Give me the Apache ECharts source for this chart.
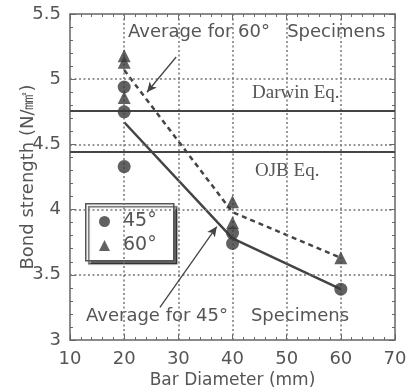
<!DOCTYPE html>
<html>
<head>
<meta charset="utf-8">
<script src="https://cdn.jsdelivr.net/npm/echarts@6/dist/echarts.min.js"></script>
<style>
  html, body { margin: 0; padding: 0; background: #fff; }
  #chart { width: 410px; height: 392px; }
</style>
</head>
<body>
<div id="chart"></div>
<script>
// data
var xTicks = [10, 20, 30, 40, 50, 60, 70];
var yTicks = [3, 3.5, 4, 4.5, 5, 5.5];
var pts45 = [[20, 4.94], [20, 4.75], [20, 4.33], [40, 3.82], [40, 3.74], [60, 3.39]];
var pts60 = [[20, 5.18], [20, 5.13], [20, 4.86], [40, 4.06], [40, 3.90], [60, 3.63]];
var avg45 = [[20, 4.67], [40, 3.78], [60, 3.39]];
var avg60 = [[20, 5.07], [40, 3.98], [60, 3.63]];
var darwinEq = 4.76;
var ojbEq = 4.44;
// arrows of the two notes, in data units
var arrow60 = [[29.6, 5.17], [24.2, 4.90]];
var arrow45 = [[26.6, 3.25], [37.1, 3.87]];

var ink = '#444';
var txt = '#555';
var font = '"DejaVu Sans"';

var chart = echarts.init(document.getElementById('chart'));

function xAxisOf(pos, labels) {
    return {
        type: 'value', position: pos,
        min: xTicks[0], max: xTicks[xTicks.length - 1], interval: 10,
        name: labels ? 'Bar Diameter (mm)' : '',
        nameLocation: 'middle', nameGap: 32, nameMoveOverlap: false,
        nameTextStyle: { color: txt, fontSize: 17, fontFamily: font },
        axisLine: { show: true, lineStyle: { color: '#666', width: 1.5 } },
        axisTick: { show: true, inside: true, length: 6, lineStyle: { color: '#666' } },
        minorTick: { show: true, splitNumber: 5, length: 3, lineStyle: { color: '#666' } },
        axisLabel: { show: labels, color: txt, fontSize: 18, fontFamily: font, margin: 10 },
        splitLine: { show: false }
    };
}
function yAxisOf(pos, labels) {
    return {
        type: 'value', position: pos,
        min: yTicks[0], max: yTicks[yTicks.length - 1], interval: 0.5,
        name: labels ? 'Bond strength (N/㎟)' : '',
        nameLocation: 'middle', nameGap: 33, nameMoveOverlap: false,
        nameTextStyle: { color: txt, fontSize: 18, fontFamily: font },
        axisLine: { show: true, lineStyle: { color: '#666', width: 1.5 } },
        axisTick: { show: true, inside: true, length: 6, lineStyle: { color: '#666' } },
        minorTick: { show: true, splitNumber: 5, length: 3, lineStyle: { color: '#666' } },
        axisLabel: { show: labels, color: txt, fontSize: 18, fontFamily: font, margin: 9 },
        splitLine: { show: false }
    };
}

// dotted grid at the inner major ticks
var gridLines = xTicks.slice(1, -1).map(function (v) { return { xAxis: v }; })
    .concat(yTicks.slice(1, -1).map(function (v) { return { yAxis: v }; }));

var option = {
    backgroundColor: '#fff',
    animation: false,
    grid: { left: 70, top: 14, right: 15, bottom: 52, outerBoundsMode: 'none' },
    xAxis: [xAxisOf('bottom', true), xAxisOf('top', false)],
    yAxis: [yAxisOf('left', true), yAxisOf('right', false)],
    legend: {
        orient: 'vertical', left: 99, top: 212,
        data: ['45°', '60°'],
        itemWidth: 11, itemHeight: 11, itemGap: 5,
        padding: 0,
        textStyle: { color: txt, fontSize: 19, fontFamily: font, padding: [0, 0, 0, 8] }
    },
    series: [{
        name: 'grid', type: 'line', data: [], symbol: 'none', z: 1,
        markLine: {
            silent: true, symbol: 'none', label: { show: false },
            lineStyle: { color: '#777', width: 1.5, type: [2, 2.5] },
            data: gridLines
        }
    }, {
        name: '45°', type: 'scatter', symbol: 'circle', symbolSize: 13,
        itemStyle: { color: '#3a3a3a' }, data: pts45, z: 5
    }, {
        name: '60°', type: 'scatter', symbol: 'triangle', symbolSize: 13,
        itemStyle: { color: '#3a3a3a' }, data: pts60, z: 5
    }, {
        name: 'avg45', type: 'line', data: avg45, symbol: 'none',
        lineStyle: { color: ink, width: 2.5 }
    }, {
        name: 'avg60', type: 'line', data: avg60, symbol: 'none',
        lineStyle: { color: ink, width: 2.5, type: [5, 4] }
    }, {
        name: 'eq', type: 'line', data: [], symbol: 'none',
        markLine: {
            silent: true, symbol: 'none', label: { show: false },
            lineStyle: { color: ink, width: 1.8, type: 'solid' },
            data: [{ yAxis: darwinEq }, { yAxis: ojbEq }]
        }
    }, {
        name: 'arrows', type: 'line', data: [], symbol: 'none',
        markLine: {
            silent: true, symbol: ['none', 'arrow'], symbolSize: [7, 10],
            label: { show: false },
            lineStyle: { color: ink, width: 1.3, type: 'solid' },
            data: [
                [{ coord: arrow60[0] }, { coord: arrow60[1] }],
                [{ coord: arrow45[0] }, { coord: arrow45[1] }]
            ]
        }
    }],
    graphic: [{
        type: 'rect', left: 85, top: 203, z: 2,
        shape: { width: 88, height: 57 },
        style: {
            fill: '#fff', stroke: '#555', lineWidth: 1.5,
            shadowColor: 'rgba(0,0,0,0.6)', shadowOffsetX: 3, shadowOffsetY: 3, shadowBlur: 1
        }
    }, {
        type: 'text', left: 128, top: 23,
        style: { text: 'Average for 60°   Specimens', fill: txt, font: '18px ' + font }
    }, {
        type: 'text', left: 86, top: 307,
        style: { text: 'Average for 45°    Specimens', fill: txt, font: '18px ' + font }
    }, {
        type: 'text', left: 252, top: 84,
        style: { text: 'Darwin Eq.', fill: txt, font: '19px "Liberation Serif"' }
    }, {
        type: 'text', left: 255, top: 162,
        style: { text: 'OJB Eq.', fill: txt, font: '19px "Liberation Serif"' }
    }]
};
chart.setOption(option);
</script>
</body>
</html>
